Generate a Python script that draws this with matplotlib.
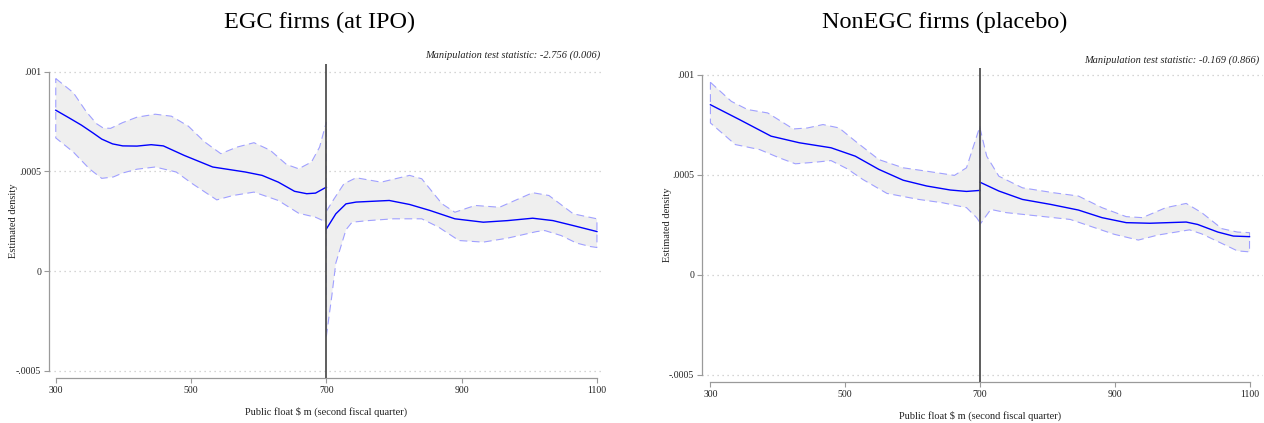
import matplotlib
matplotlib.use("Agg")
import matplotlib.pyplot as plt

# ================= CONFIGURATION =================
CUTOFF = 700
XTICKS = [300, 500, 700, 900, 1100]
YTICKS = [-0.0005, 0, 0.0005, 0.001]
YTICK_LABELS = ["-.0005", "0", ".0005", ".001"]

TITLES = ["EGC firms (at IPO)", "NonEGC firms (placebo)"]
TEST_STATS = [-2.756, -0.169]
P_VALUES = [0.006, 0.866]

FIT_COLOR = "#0000ff"
CI_COLOR = "#a0a0ff"
BAND_COLOR = "#efefef"
AXIS_COLOR = "#9a9a9a"
# =================================================

# --- EGC firms, below the 700 threshold ---
egc_lo_fit_x = [300, 320, 338, 355, 368, 384, 399, 420, 441, 459, 490, 532, 580, 605, 629, 653, 671, 684, 700]
egc_lo_fit_y = [0.000807, 0.000768, 0.000732, 0.000693, 0.000662, 0.000638, 0.000628, 0.000627,
                0.000634, 0.000628, 0.00058, 0.000522, 0.000497, 0.00048, 0.000446, 0.0004, 0.000388,
                0.000391, 0.000421]
egc_lo_up_x = [300, 326, 345, 360, 370, 381, 399, 420, 447, 471, 496, 520, 544, 568, 593, 617, 641, 659,
               678, 690, 700]
egc_lo_up_y = [0.000966, 0.000895, 0.0008, 0.00074, 0.000718, 0.000716, 0.000745, 0.000772, 0.000787,
               0.000777, 0.000727, 0.000648, 0.000589, 0.000622, 0.000644, 0.000606, 0.000535, 0.000513,
               0.000547, 0.000622, 0.000748]
egc_lo_dn_x = [300, 326, 350, 368, 385, 399, 420, 447, 478, 502, 538, 562, 593, 629, 659, 684, 700]
egc_lo_dn_y = [0.000668, 0.000597, 0.000512, 0.000465, 0.000472, 0.000492, 0.000511, 0.000522,
               0.000497, 0.000438, 0.000357, 0.000379, 0.000396, 0.000354, 0.00029, 0.00027, 0.000245]

# --- EGC firms, above the threshold ---
egc_hi_fit_x = [700, 714, 729, 744, 793, 823, 853, 890, 932, 968, 1005, 1035, 1065, 1100]
egc_hi_fit_y = [0.000211, 0.000287, 0.000337, 0.000346, 0.000354, 0.000334, 0.000304, 0.000262,
                0.000245, 0.000253, 0.000265, 0.000253, 0.000228, 0.000198]
egc_hi_up_x = [700, 711, 726, 744, 781, 823, 841, 871, 890, 920, 956, 1005, 1029, 1065, 1100]
egc_hi_up_y = [0.0003, 0.00036, 0.000438, 0.000468, 0.000446, 0.00048, 0.000463, 0.000337, 0.000295,
               0.000329, 0.00032, 0.000393, 0.000379, 0.000287, 0.000262]
egc_hi_dn_x = [700, 708, 714, 729, 738, 762, 799, 841, 866, 896, 932, 968, 1011, 1023, 1047, 1070, 1090, 1100]
egc_hi_dn_y = [-0.000328, -0.000127, 0.00004, 0.000207, 0.000245, 0.000253, 0.000262, 0.000262,
               0.00022, 0.000153, 0.000145, 0.000165, 0.000198, 0.000203, 0.000178, 0.00014,
               0.000123, 0.000118]

# --- NonEGC firms, below the threshold ---
non_lo_fit_x = [300, 343, 390, 432, 479, 515, 550, 586, 621, 656, 680, 700]
non_lo_fit_y = [0.00085, 0.000776, 0.000693, 0.00066, 0.000635, 0.000593, 0.000527, 0.000473,
                0.000444, 0.000424, 0.000417, 0.000422]
non_lo_up_x = [300, 331, 355, 385, 423, 444, 467, 491, 515, 550, 586, 621, 662, 680, 692, 700]
non_lo_up_y = [0.000962, 0.000867, 0.000826, 0.000809, 0.000729, 0.000734, 0.000751, 0.000734,
               0.000668, 0.000576, 0.000535, 0.000518, 0.000497, 0.000535, 0.00066, 0.000743]
non_lo_dn_x = [300, 337, 373, 402, 426, 456, 479, 503, 526, 562, 609, 645, 680, 695, 700]
non_lo_dn_y = [0.000759, 0.000651, 0.000626, 0.000585, 0.000555, 0.000563, 0.000571, 0.00053,
               0.000477, 0.000407, 0.000377, 0.00036, 0.000336, 0.000286, 0.000261]

# --- NonEGC firms, above the threshold ---
non_hi_fit_x = [700, 728, 763, 805, 846, 881, 917, 952, 1006, 1023, 1053, 1076, 1100]
non_hi_fit_y = [0.000463, 0.000419, 0.000377, 0.000352, 0.000324, 0.000286, 0.000261, 0.000258,
                0.000264, 0.000252, 0.000214, 0.000194, 0.000191]
non_hi_up_x = [700, 710, 728, 763, 810, 846, 881, 917, 941, 976, 1006, 1029, 1059, 1082, 1100]
non_hi_up_y = [0.000734, 0.000593, 0.000493, 0.000435, 0.00041, 0.000394, 0.000336, 0.000291,
               0.000286, 0.000336, 0.000357, 0.000311, 0.000231, 0.000214, 0.000211]
non_hi_dn_x = [700, 716, 739, 787, 834, 863, 899, 935, 964, 1011, 1029, 1059, 1082, 1100]
non_hi_dn_y = [0.000252, 0.000327, 0.000311, 0.000294, 0.000277, 0.000244, 0.000203, 0.000174,
               0.000199, 0.000225, 0.000205, 0.000157, 0.00012, 0.000115]

plt.rcParams["font.family"] = ["Liberation Serif", "DejaVu Serif"]

W, H = 1264, 423
fig = plt.figure(figsize=(W / 100, H / 100), dpi=100)

# axes boxes in pixels: left, top, right, bottom
panels = [
    dict(box=(49, 64, 601, 378), xlim=(290, 1106), ylim=(-0.000537, 0.001039),
         segments=[(egc_lo_fit_x, egc_lo_fit_y, egc_lo_up_x, egc_lo_up_y, egc_lo_dn_x, egc_lo_dn_y),
                   (egc_hi_fit_x, egc_hi_fit_y, egc_hi_up_x, egc_hi_up_y, egc_hi_dn_x, egc_hi_dn_y)],
         title_x=320, note_x=600, note_y=55, ylab_x=14, xlab_y=412),
    dict(box=(702, 68, 1263, 382), xlim=(287.5, 1120), ylim=(-0.000535, 0.0010335),
         segments=[(non_lo_fit_x, non_lo_fit_y, non_lo_up_x, non_lo_up_y, non_lo_dn_x, non_lo_dn_y),
                   (non_hi_fit_x, non_hi_fit_y, non_hi_up_x, non_hi_up_y, non_hi_dn_x, non_hi_dn_y)],
         title_x=945, note_x=1259, note_y=60, ylab_x=667, xlab_y=416),
]


def draw_panel(ax, p, i):
    ax.set_xlim(*p["xlim"])
    ax.set_ylim(*p["ylim"])

    # confidence band as a closed polygon with dashed outline, then the fit
    for fx, fy, ux, uy, dx, dy in p["segments"]:
        ax.fill(list(ux) + list(dx[::-1]), list(uy) + list(dy[::-1]),
                facecolor=BAND_COLOR, edgecolor=CI_COLOR, linestyle=(0, (7, 4)),
                linewidth=0.8, zorder=2)
        ax.plot(fx, fy, color=FIT_COLOR, linewidth=1.0, zorder=3)

    ax.axvline(CUTOFF, color="#505050", linewidth=1.3, zorder=4)

    ax.set_xticks(XTICKS)
    ax.set_yticks(YTICKS, labels=YTICK_LABELS)
    ax.yaxis.grid(True, color="#c8c8c8", linestyle=(0, (1, 3)), linewidth=0.9)
    ax.set_axisbelow(True)

    for s in ["top", "right"]:
        ax.spines[s].set_visible(False)
    ax.spines["bottom"].set_bounds(XTICKS[0], XTICKS[-1])
    ax.spines["left"].set_bounds(YTICKS[0], YTICKS[-1])
    for s in ["bottom", "left"]:
        ax.spines[s].set_color(AXIS_COLOR)
        ax.spines[s].set_linewidth(0.9)
    ax.tick_params(length=3.5, width=0.8, color=AXIS_COLOR, pad=2, labelsize=7, labelcolor="#222222")

    fig.text(p["title_x"] / W, 1 - 22 / H, TITLES[i], fontsize=17.5, ha="center", va="center")
    fig.text(p["note_x"] / W, 1 - p["note_y"] / H,
             f"Manipulation test statistic: {TEST_STATS[i]:.3f} ({P_VALUES[i]:.3f})",
             fontsize=7.5, style="italic", ha="right", va="center", color="#222222")
    fig.text(p["ylab_x"] / W, 1 - (p["box"][1] + p["box"][3]) / 2 / H, "Estimated density",
             rotation=90, fontsize=7.5, ha="center", va="center", color="#222222")
    x300 = p["box"][0] + (300 - p["xlim"][0]) / (p["xlim"][1] - p["xlim"][0]) * (p["box"][2] - p["box"][0])
    x1100 = p["box"][0] + (1100 - p["xlim"][0]) / (p["xlim"][1] - p["xlim"][0]) * (p["box"][2] - p["box"][0])
    fig.text((x300 + x1100) / 2 / W, 1 - p["xlab_y"] / H, r"Public float \$ m (second fiscal quarter)",
             fontsize=7.5, ha="center", va="center", color="#222222")


for i, p in enumerate(panels):
    l, t, r, b = p["box"]
    ax = fig.add_axes([l / W, 1 - b / H, (r - l) / W, (b - t) / H])
    draw_panel(ax, p, i)

fig.savefig("out.png", dpi=100)
